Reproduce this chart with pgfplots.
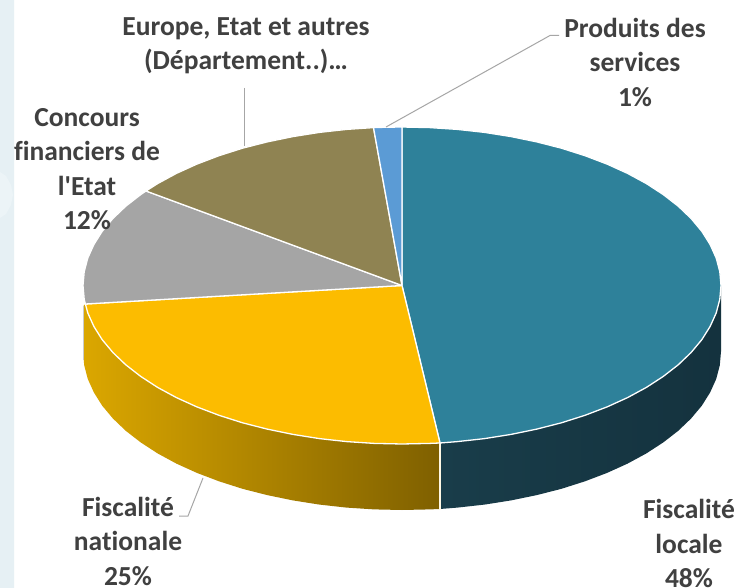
\documentclass[border=0pt]{standalone}
\usepackage{fontspec}
\setmainfont{Carlito}[Ligatures={NoCommon,NoRequired}]
\usepackage{pgfplots}
\pgfplotsset{compat=1.18}
\definecolor{txt}{HTML}{404040}
\definecolor{lead}{HTML}{A6A6A6}
\definecolor{strip}{HTML}{E6F0F4}
\definecolor{teal}{HTML}{2E819A}
\definecolor{jaune}{HTML}{FCBC00}
\definecolor{gris}{HTML}{A5A5A5}
\definecolor{olive}{HTML}{8F8352}
\definecolor{bleu}{HTML}{5B9BD5}
\definecolor{sideA}{HTML}{193D4A}
\definecolor{sideB}{HTML}{14323E}
\definecolor{sideC}{HTML}{DBA700}
\definecolor{sideD}{HTML}{C49500}
\definecolor{sideE}{HTML}{7F6000}
\tikzset{lab/.style={font=\fontsize{27.5}{34.5}\selectfont\bfseries, text=txt, align=center, anchor=north, inner sep=0pt}}

\begin{document}
\begin{tikzpicture}
\begin{axis}[
  scale only axis, width=740pt, height=588pt,
  xmin=0, xmax=740, ymin=0, ymax=588, y dir=reverse,
  hide axis, clip=false]

% page and pale strip on the left
\addplot[fill=white, draw=none] coordinates {(0,0) (740,0) (740,588) (0,588) (0,0)};
\addplot[fill=strip, draw=none] coordinates {(0,0) (14,0) (14,588) (0,588) (0,0)};
\addplot[fill=strip!75!white, draw=none] coordinates {(0,172) (6,176) (11,185) (13,195) (11,205) (6,214) (0,218) (0,172)};

% side walls
\addplot[left color=sideA, right color=sideB, draw=none] coordinates {
  (440,443) (457.4,441.6) (484.6,438.6) (511.1,434.4) (536.8,429.1) (561.5,422.8) (585,415.3)
  (607.1,406.9) (627.6,397.6) (646.4,387.4) (663.3,376.4) (678.3,364.75) (691.1,352.5)
  (701.8,339.7) (710.1,326.5) (716.2,313) (719.8,299.3) (721,285.5)
  (721,351.5) (719.8,365.3) (716.2,379) (710.1,392.5) (701.8,405.7) (691.1,418.5) (678.3,430.75)
  (663.3,442.4) (646.4,453.4) (627.6,463.6) (607.1,472.9) (585,481.3) (561.5,488.8) (536.8,495.1)
  (511.1,500.4) (484.6,504.6) (457.4,507.6) (440,509) (440,443)};
\addplot[left color=sideC, middle color=sideD, right color=sideE, draw=none] coordinates {
  (85.4,304) (87.8,313) (93.9,326.5) (102.2,339.7) (112.9,352.5) (125.7,364.75) (140.7,376.4)
  (157.6,387.4) (176.4,397.6) (196.9,406.9) (219,415.3) (242.5,422.8) (267.2,429.1) (292.9,434.4)
  (319.4,438.6) (346.6,441.6) (374.2,443.4) (402,444) (429.8,443.4) (440,443)
  (440,509) (429.8,509.4) (402,510) (374.2,509.4) (346.6,507.6) (319.4,504.6) (292.9,500.4)
  (267.2,495.1) (242.5,488.8) (219,481.3) (196.9,472.9) (176.4,463.6) (157.6,453.4) (140.7,442.4)
  (125.7,430.75) (112.9,418.5) (102.2,405.7) (93.9,392.5) (87.8,379) (84.2,365.3) (83,351.5)
  (83.5,306) (85.4,304)};
\addplot[color=lead!60!white, line width=0.8pt] coordinates {(83,306) (83,360)};
\addplot[color=white!90!jaune, line width=1.1pt] coordinates {(440,443) (440,510)};

% top face: Fiscalité locale, Fiscalité nationale, Concours, Europe, Produits
\addplot[fill=teal, draw=white, line width=1.3pt, line join=round] coordinates {
  (402,285.5) (402,127) (429.8,127.6) (457.4,129.4) (484.6,132.4) (511.1,136.6) (536.8,141.9)
  (561.5,148.2) (585,155.7) (607.1,164.1) (627.6,173.4) (646.4,183.6) (663.3,194.6) (678.3,206.25)
  (691.1,218.5) (701.8,231.3) (710.1,244.5) (716.2,258) (719.8,271.7) (721,285.5) (719.8,299.3)
  (716.2,313) (710.1,326.5) (701.8,339.7) (691.1,352.5) (678.3,364.75) (663.3,376.4) (646.4,387.4)
  (627.6,397.6) (607.1,406.9) (585,415.3) (561.5,422.8) (536.8,429.1) (511.1,434.4) (484.6,438.6)
  (457.4,441.6) (440,443) (402,285.5)};
\addplot[fill=jaune, draw=white, line width=1.3pt, line join=round] coordinates {
  (402,285.5) (440,443) (429.8,443.4) (402,444) (374.2,443.4) (346.6,441.6) (319.4,438.6) (292.9,434.4)
  (267.2,429.1) (242.5,422.8) (219,415.3) (196.9,406.9) (176.4,397.6) (157.6,387.4) (140.7,376.4)
  (125.7,364.75) (112.9,352.5) (102.2,339.7) (93.9,326.5) (87.8,313) (85.4,304) (402,285.5)};
\addplot[fill=gris, draw=white, line width=1.3pt, line join=round] coordinates {
  (402,285.5) (85.4,304) (84.2,299.3) (83,285.5) (84.2,271.7) (87.8,258) (93.9,244.5) (102.2,231.3)
  (112.9,218.5) (125.7,206.25) (140.7,194.6) (146,191) (402,285.5)};
\addplot[fill=olive, draw=white, line width=1.3pt, line join=round] coordinates {
  (402,285.5) (146,191) (157.6,183.6) (176.4,173.4) (196.9,164.1) (219,155.7) (242.5,148.2) (267.2,141.9)
  (292.9,136.6) (319.4,132.4) (346.6,129.4) (373.5,127.6) (402,285.5)};
\addplot[fill=bleu, draw=white, line width=1.3pt, line join=round] coordinates {
  (402,285.5) (373.5,127.6) (388,127.2) (402,127) (402,285.5)};

% leader lines
\addplot[color=lead, line width=1pt] coordinates {(244,88) (244,146)};
\addplot[color=lead, line width=1pt] coordinates {(559,35.5) (550,35.5) (386,127)};
\addplot[color=lead, line width=1pt] coordinates {(179,516) (188,516) (203,478)};

% labels
\node[lab] at (axis cs:246,17) {Europe, Etat et autres\\(Département..)…};
\node[lab] at (axis cs:635,18) {Produits des\\services\\1\%};
\node[lab] at (axis cs:87,108) {Concours\\financiers de\\l\textquotesingle Etat\\12\%};
\node[lab] at (axis cs:128,497) {Fiscalité\\nationale\\25\%};
\node[lab] at (axis cs:689,499.5) {Fiscalité\\locale\\48\%};
\end{axis}
\pgfresetboundingbox
\path (0,0) rectangle (740pt,588pt);
\end{tikzpicture}
\end{document}
